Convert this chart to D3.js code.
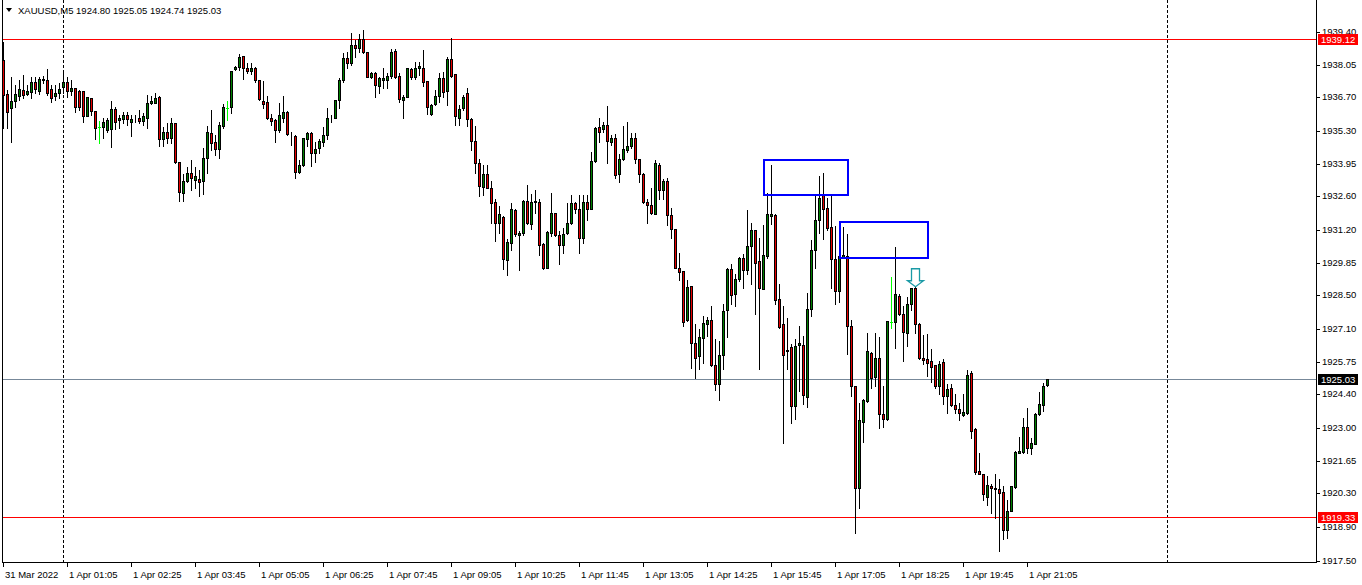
<!DOCTYPE html>
<html><head><meta charset="utf-8">
<script src="https://cdn.jsdelivr.net/npm/d3@7"></script>
<style>
html,body{margin:0;padding:0;background:#fff;}
svg{display:block;}
text{font-family:"Liberation Sans",Arial,sans-serif;font-size:9.5px;}
</style></head>
<body>
<svg id="chart" width="1362" height="585"></svg>
<script>
// ---------- DATA (XAUUSD M5) ----------
const symbolTitle = "XAUUSD,M5";
const opens = [1938.24,1936.83,1936.25,1936.54,1936.75,1936.99,1936.83,1936.91,1937.33,1936.95,1937.41,1937.41,1937.04,1936.75,1936.87,1937.12,1937.33,1936.95,1937.08,1936.95,1936.95,1935.92,1936.66,1936.12,1935.46,1935.46,1935.34,1935.38,1936.21,1935.75,1935.79,1935.96,1935.67,1935.85,1935.87,1935.71,1935.87,1936.46,1936.46,1936.70,1935.00,1935.25,1935.04,1935.63,1934.01,1932.76,1933.26,1933.59,1933.30,1933.34,1933.22,1934.21,1935.21,1934.84,1934.55,1935.50,1936.25,1936.29,1937.87,1937.95,1938.41,1937.91,1937.78,1937.91,1937.41,1936.54,1936.50,1935.87,1935.75,1935.34,1935.87,1936.08,1935.11,1935.09,1933.63,1933.92,1935.00,1935.21,1934.38,1934.59,1934.84,1935.13,1935.83,1935.83,1936.58,1937.41,1938.32,1938.12,1938.86,1938.74,1939.11,1938.57,1937.53,1937.70,1937.16,1937.41,1937.41,1937.58,1938.61,1937.58,1936.58,1936.70,1937.87,1937.53,1937.91,1937.91,1937.37,1936.00,1936.41,1936.75,1937.49,1936.95,1938.28,1937.66,1935.87,1936.25,1936.87,1935.79,1934.88,1933.97,1933.01,1933.51,1932.93,1932.35,1931.52,1931.77,1929.98,1930.69,1932.02,1931.02,1931.10,1932.43,1931.48,1932.41,1932.39,1930.65,1929.65,1931.10,1931.93,1931.02,1930.60,1931.10,1931.52,1932.31,1932.10,1930.90,1932.39,1932.10,1934.05,1935.46,1935.38,1935.54,1934.84,1935.04,1933.51,1934.17,1934.51,1934.67,1935.04,1934.17,1933.51,1932.35,1932.26,1931.89,1933.92,1932.85,1933.22,1931.85,1931.27,1929.65,1929.52,1927.49,1928.90,1926.54,1926.00,1926.75,1927.33,1927.49,1925.62,1924.84,1926.04,1927.90,1929.61,1928.57,1929.19,1930.06,1929.57,1930.56,1931.23,1929.94,1928.78,1930.15,1931.81,1931.85,1928.36,1927.33,1926.25,1926.37,1923.92,1926.45,1926.45,1924.30,1927.95,1930.40,1931.64,1932.64,1932.14,1931.35,1930.02,1928.70,1930.11,1930.15,1927.24,1924.75,1920.52,1923.26,1924.13,1926.12,1925.12,1925.91,1923.59,1923.38,1927.41,1927.41,1928.49,1927.74,1926.95,1928.16,1928.82,1927.33,1925.91,1925.87,1925.79,1925.62,1924.75,1925.75,1924.34,1924.67,1923.96,1923.80,1923.55,1923.63,1925.29,1922.97,1921.22,1921.10,1920.15,1920.60,1920.52,1920.48,1920.35,1918.78,1919.56,1920.56,1921.97,1922.01,1923.05,1922.18,1922.34,1923.59,1923.96,1924.80];
const highs = [1938.99,1936.99,1937.53,1937.20,1937.41,1937.62,1937.20,1937.53,1937.53,1937.53,1937.58,1937.87,1937.20,1937.20,1937.29,1937.70,1937.53,1937.41,1937.08,1936.99,1936.95,1936.70,1936.66,1936.12,1935.71,1935.83,1935.87,1936.54,1936.29,1935.96,1936.08,1936.08,1935.96,1935.96,1936.17,1936.04,1936.79,1936.75,1936.87,1936.75,1935.46,1935.63,1935.87,1935.63,1934.01,1933.55,1933.84,1934.09,1933.80,1933.68,1934.59,1935.50,1936.17,1935.13,1935.67,1936.41,1936.54,1937.78,1937.99,1938.49,1938.41,1938.12,1938.12,1937.95,1937.41,1937.37,1936.75,1936.00,1935.79,1936.46,1936.75,1936.12,1935.25,1935.13,1934.09,1935.04,1935.25,1935.25,1934.84,1935.00,1935.46,1936.25,1935.96,1936.58,1937.49,1938.53,1938.57,1939.36,1939.07,1939.32,1939.49,1938.57,1937.74,1937.74,1937.53,1937.91,1937.70,1938.70,1938.70,1937.70,1936.79,1937.91,1937.91,1938.16,1938.16,1938.66,1937.37,1936.41,1936.99,1937.70,1937.74,1938.36,1939.15,1937.66,1936.37,1936.79,1937.08,1935.83,1935.50,1934.17,1933.92,1933.92,1933.26,1932.51,1932.22,1931.81,1930.85,1932.31,1932.10,1931.19,1932.47,1933.09,1932.72,1932.85,1932.51,1930.69,1931.19,1932.76,1931.93,1931.19,1931.31,1932.31,1932.68,1932.35,1932.64,1932.64,1932.64,1934.46,1935.46,1935.83,1935.67,1936.33,1935.13,1935.17,1934.34,1935.50,1935.67,1935.21,1935.21,1934.17,1933.59,1932.51,1932.93,1934.09,1933.97,1933.34,1933.38,1932.14,1931.27,1930.27,1929.52,1929.15,1928.90,1927.33,1927.12,1927.66,1927.62,1928.07,1926.70,1926.62,1928.16,1929.65,1929.82,1929.40,1930.11,1930.23,1932.02,1931.52,1931.23,1930.89,1931.43,1932.76,1933.92,1931.89,1928.99,1928.07,1927.57,1926.50,1926.70,1927.24,1926.83,1928.61,1930.81,1932.72,1933.43,1933.59,1932.55,1932.64,1931.39,1930.36,1931.35,1931.06,1927.49,1924.75,1924.05,1924.21,1926.95,1926.16,1926.95,1926.79,1924.75,1927.45,1929.28,1930.52,1928.57,1928.07,1928.45,1928.82,1928.86,1927.37,1926.87,1926.91,1926.29,1925.62,1925.79,1925.87,1924.84,1924.84,1924.42,1924.05,1924.42,1925.42,1925.37,1923.01,1921.97,1921.10,1921.02,1920.69,1921.10,1920.89,1920.60,1920.02,1920.60,1922.05,1922.64,1923.42,1923.84,1922.59,1923.63,1924.50,1924.88,1925.05];
const lows = [1935.42,1935.42,1934.84,1936.29,1936.58,1936.66,1936.79,1936.66,1936.87,1936.83,1937.29,1936.79,1936.50,1936.58,1936.66,1936.87,1936.70,1936.79,1936.08,1936.17,1935.67,1935.92,1935.96,1935.00,1934.80,1935.04,1935.25,1934.63,1935.38,1935.42,1935.63,1935.58,1935.09,1935.67,1935.63,1935.58,1935.42,1936.41,1936.46,1934.71,1934.71,1934.80,1934.80,1933.97,1932.43,1932.43,1933.18,1932.85,1932.93,1932.60,1932.72,1933.59,1934.51,1934.30,1934.21,1935.42,1935.75,1936.04,1937.82,1937.82,1937.45,1937.70,1937.66,1937.33,1936.58,1936.25,1935.79,1935.54,1934.84,1935.25,1935.67,1935.13,1934.75,1933.38,1933.59,1933.88,1934.67,1933.88,1934.01,1934.38,1934.71,1935.00,1935.67,1935.83,1936.25,1937.33,1937.91,1938.03,1938.36,1938.57,1938.53,1937.53,1937.49,1936.70,1936.87,1937.08,1937.08,1937.49,1937.49,1936.50,1935.83,1936.70,1937.45,1937.45,1937.62,1937.16,1936.00,1935.96,1936.37,1936.50,1936.70,1936.37,1937.53,1935.58,1935.54,1936.17,1935.50,1934.51,1933.59,1932.60,1932.64,1932.93,1931.52,1930.77,1931.10,1929.61,1929.36,1930.40,1930.98,1929.57,1931.02,1931.48,1931.27,1931.93,1930.19,1929.61,1929.65,1930.98,1930.98,1929.81,1930.27,1931.06,1931.48,1931.93,1930.27,1930.69,1931.64,1932.06,1934.01,1934.84,1935.29,1933.97,1934.75,1933.38,1933.18,1934.13,1934.46,1934.59,1933.97,1933.18,1932.31,1931.52,1931.89,1931.89,1932.51,1932.51,1931.43,1930.89,1929.65,1929.15,1927.24,1927.45,1925.50,1925.08,1925.46,1925.71,1926.83,1925.58,1924.59,1924.17,1925.46,1926.79,1928.16,1928.07,1929.11,1928.82,1929.40,1928.99,1927.74,1925.46,1928.78,1930.06,1931.48,1928.16,1927.16,1922.39,1925.46,1923.22,1923.38,1924.54,1924.01,1923.88,1927.66,1929.65,1931.10,1930.85,1931.23,1928.82,1928.16,1928.24,1930.06,1926.08,1924.34,1918.65,1919.69,1922.43,1924.09,1924.67,1924.75,1923.01,1923.05,1923.34,1927.16,1926.33,1927.70,1925.79,1926.41,1927.91,1926.95,1925.87,1925.67,1925.17,1924.92,1924.67,1924.42,1924.01,1923.63,1923.92,1923.63,1923.34,1923.51,1923.59,1922.59,1921.10,1921.10,1920.02,1919.81,1919.48,1919.27,1917.90,1918.40,1918.44,1919.56,1920.52,1921.97,1921.97,1921.97,1921.93,1922.34,1923.55,1923.71,1924.74];
const closes = [1936.79,1936.08,1936.54,1936.83,1937.04,1936.79,1936.95,1937.33,1937.04,1937.45,1937.45,1936.87,1936.66,1936.87,1937.04,1937.33,1936.95,1937.08,1936.29,1936.29,1935.92,1936.70,1936.12,1935.42,1935.46,1935.67,1935.75,1936.21,1935.67,1935.83,1935.96,1935.79,1935.79,1935.87,1935.71,1935.92,1936.46,1936.54,1936.66,1935.00,1935.25,1935.04,1935.63,1934.01,1932.80,1933.26,1933.59,1933.38,1933.43,1933.18,1934.21,1935.29,1934.80,1934.55,1935.54,1936.29,1936.25,1937.78,1937.95,1938.36,1937.91,1937.78,1937.91,1937.41,1936.62,1936.41,1935.83,1935.71,1935.34,1935.96,1936.08,1935.17,1935.09,1933.63,1933.92,1935.04,1935.21,1934.38,1934.55,1934.88,1935.13,1935.87,1935.85,1936.58,1937.41,1938.32,1938.12,1938.86,1938.74,1939.11,1938.57,1937.53,1937.70,1937.20,1937.49,1937.49,1937.58,1938.57,1937.53,1936.62,1936.70,1937.91,1937.53,1937.91,1937.99,1937.33,1936.29,1936.37,1936.75,1937.49,1936.91,1938.28,1937.58,1935.92,1936.21,1936.70,1935.79,1934.88,1933.97,1933.05,1933.51,1932.93,1932.31,1931.52,1931.89,1930.02,1930.73,1932.06,1931.06,1931.10,1932.43,1931.52,1932.39,1932.39,1930.60,1929.65,1931.14,1931.93,1931.02,1930.60,1931.06,1931.52,1932.31,1932.10,1930.90,1932.35,1932.10,1934.05,1935.42,1935.29,1935.54,1934.88,1935.04,1933.47,1934.17,1934.55,1934.67,1935.04,1934.17,1933.51,1932.35,1932.26,1931.93,1933.97,1932.85,1933.22,1931.85,1931.27,1929.65,1929.48,1927.41,1928.86,1926.54,1925.91,1926.79,1927.37,1927.49,1925.62,1924.84,1926.04,1927.86,1929.61,1928.53,1929.19,1930.06,1929.57,1930.56,1931.23,1929.86,1928.82,1930.19,1931.89,1931.89,1928.32,1927.20,1926.04,1926.21,1923.92,1926.41,1926.54,1924.38,1927.95,1930.40,1931.64,1932.55,1932.06,1931.31,1930.02,1928.70,1930.15,1930.19,1927.24,1924.75,1920.52,1923.34,1924.17,1926.20,1925.08,1925.91,1923.59,1923.38,1927.45,1927.41,1928.57,1927.74,1926.99,1928.16,1928.82,1927.33,1925.91,1925.83,1925.71,1925.54,1924.75,1925.67,1924.34,1924.63,1923.96,1923.80,1923.63,1923.67,1925.21,1922.88,1921.18,1921.10,1920.27,1920.64,1920.52,1920.48,1920.31,1918.78,1919.56,1920.60,1922.01,1922.05,1923.05,1922.18,1922.39,1923.59,1924.01,1924.75,1925.03];

const timeLabels = ["31 Mar 2022","1 Apr 01:05","1 Apr 02:25","1 Apr 03:45","1 Apr 05:05","1 Apr 06:25","1 Apr 07:45","1 Apr 09:05","1 Apr 10:25","1 Apr 11:45","1 Apr 13:05","1 Apr 14:25","1 Apr 15:45","1 Apr 17:05","1 Apr 18:25","1 Apr 19:45","1 Apr 21:05"];
const barsPerLabel = 16;
const priceTicks = [1939.40,1938.05,1936.70,1935.30,1933.95,1932.60,1931.20,1929.85,1928.50,1927.10,1925.75,1924.40,1923.00,1921.65,1920.30,1918.90,1917.50];
const separatorBars = [15, 291];
const levelPrices = [1939.12, 1925.03, 1919.33];
const levelKinds = ["red", "bid", "red"];
const rectStartBar = [190, 209];
const rectEndBar = [211, 231];
const rectTopPrice = [1934.15, 1931.58];
const rectBottomPrice = [1932.70, 1930.09];
const arrowBar = [228];
const arrowPrice = [1928.86];

// ---------- LAYOUT ----------
const W = 1362, H = 585;
const plotLeft = 2, plotRight = 1316, plotTop = 0, plotBottom = 562;
const svg = d3.select("#chart");
svg.append("rect").attr("width", W).attr("height", H).attr("fill", "#fff");

const x = d3.scaleLinear().domain([0, 328]).range([3, 1315]);
const y = d3.scaleLinear().domain([1917.50, 1939.40]).range([561, 32.3]);

const upColor = "#008000", downColor = "#e60000", dojiColor = "#00ff00";
const px = v => Math.round(v);

const g = svg.append("g").attr("shape-rendering", "crispEdges");

// separators
g.selectAll("line.sep").data(separatorBars).enter().append("line")
  .attr("x1", d => px(x(d)) + 0.5).attr("x2", d => px(x(d)) + 0.5)
  .attr("y1", plotTop).attr("y2", plotBottom)
  .attr("stroke", "#000").attr("stroke-dasharray", "3,2");

// level lines
g.selectAll("line.lvl").data(levelPrices).enter().append("line")
  .attr("x1", plotLeft).attr("x2", plotRight)
  .attr("y1", d => px(y(d)) + 0.5).attr("y2", d => px(y(d)) + 0.5)
  .attr("stroke", (d, i) => levelKinds[i] === "bid" ? "#778899" : "#ff0000");

// candles
const bars = d3.range(opens.length).map(i => ({i, o: opens[i], h: highs[i], l: lows[i], c: closes[i]}));
const cg = g.append("g");
bars.forEach(b => {
  const xc = px(x(b.i));
  const doji = b.o === b.c;
  cg.append("line")
    .attr("x1", xc + 0.5).attr("x2", xc + 0.5)
    .attr("y1", px(y(b.h))).attr("y2", px(y(b.l)) + 1)
    .attr("stroke", doji ? dojiColor : "#000");
  if (doji) {
    cg.append("line")
      .attr("x1", xc - 1).attr("x2", xc + 2)
      .attr("y1", px(y(b.o)) + 0.5).attr("y2", px(y(b.o)) + 0.5)
      .attr("stroke", dojiColor);
  } else {
    const top = px(y(Math.max(b.o, b.c)));
    const bot = px(y(Math.min(b.o, b.c)));
    cg.append("rect")
      .attr("x", xc - 0.5).attr("width", 2)
      .attr("y", top + 0.5).attr("height", Math.max(0, bot - top))
      .attr("fill", b.c > b.o ? upColor : downColor)
      .attr("stroke", "#000").attr("stroke-width", 1);
  }
});

// rectangles
g.selectAll("rect.zone").data(rectStartBar).enter().append("rect")
  .attr("x", (d) => px(x(d)) + 0.5)
  .attr("width", (d, i) => px(x(rectEndBar[i])) - px(x(d)))
  .attr("y", (d, i) => px(y(rectTopPrice[i])) + 0.5)
  .attr("height", (d, i) => px(y(rectBottomPrice[i])) - px(y(rectTopPrice[i])))
  .attr("fill", "none").attr("stroke", "#0000ff").attr("stroke-width", 2);

// arrow
arrowBar.forEach((b, i) => {
  const ax = px(x(b)) + 0.5, ay = y(arrowPrice[i]);
  const p = d3.path();
  p.moveTo(ax, ay);
  p.lineTo(ax - 8, ay - 6);
  p.lineTo(ax - 4, ay - 6);
  p.lineTo(ax - 4, ay - 18);
  p.lineTo(ax + 4, ay - 18);
  p.lineTo(ax + 4, ay - 6);
  p.lineTo(ax + 8, ay - 6);
  p.closePath();
  svg.append("path").attr("d", p.toString())
    .attr("fill", "#fff").attr("stroke", "#1a9aa6").attr("stroke-width", 1.3);
});

// frame
g.append("line").attr("x1", plotLeft + 0.5).attr("x2", plotLeft + 0.5).attr("y1", 0).attr("y2", plotBottom + 1).attr("stroke", "#000");
g.append("line").attr("x1", plotLeft).attr("x2", plotRight + 1).attr("y1", plotBottom + 0.5).attr("y2", plotBottom + 0.5).attr("stroke", "#000");
g.append("line").attr("x1", plotRight + 0.5).attr("x2", plotRight + 0.5).attr("y1", 0).attr("y2", plotBottom + 1).attr("stroke", "#000");

// price axis
const yAxis = svg.append("g");
priceTicks.forEach(v => {
  const yy = px(y(v));
  yAxis.append("line").attr("x1", plotRight + 1).attr("x2", plotRight + 4)
    .attr("y1", yy + 0.5).attr("y2", yy + 0.5).attr("stroke", "#000").attr("shape-rendering", "crispEdges");
  yAxis.append("text").attr("x", 1322).attr("y", yy).attr("dy", "0.35em")
    .attr("fill", "#000").text(d3.format(".2f")(v));
});

// level labels
levelPrices.forEach((v, i) => {
  const yy = px(y(v));
  yAxis.append("rect").attr("x", 1318).attr("y", yy - 5).attr("width", 40).attr("height", 11)
    .attr("fill", levelKinds[i] === "bid" ? "#000" : "#ff0000");
  yAxis.append("text").attr("x", 1321).attr("y", yy + 0.5).attr("dy", "0.35em")
    .attr("fill", "#fff").text(d3.format(".2f")(v));
});

// time axis
const xAxis = svg.append("g");
timeLabels.forEach((t, k) => {
  const xx = px(x(k * barsPerLabel));
  xAxis.append("line").attr("x1", xx + 0.5).attr("x2", xx + 0.5)
    .attr("y1", plotBottom + 1).attr("y2", plotBottom + 5).attr("stroke", "#000").attr("shape-rendering", "crispEdges");
  xAxis.append("text").attr("x", xx + 2).attr("y", 578).attr("fill", "#000").text(t);
});

// title
svg.append("path").attr("d", "M6,8 L12,8 L9,12 Z").attr("fill", "#000");
svg.append("text").attr("x", 18).attr("y", 14).attr("fill", "#000")
  .text(symbolTitle + "  " + [opens, highs, lows, closes].map(a => d3.format(".2f")(a[a.length - 1])).join(" "));
</script>
</body></html>
